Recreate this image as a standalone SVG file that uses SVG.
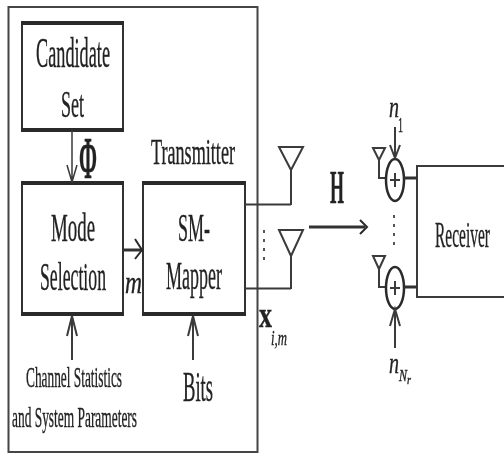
<svg xmlns="http://www.w3.org/2000/svg" width="504" height="454" viewBox="0 0 504 454">
<style>
text{font-family:"Liberation Serif","Times New Roman",serif;fill:#222;stroke:#222;stroke-width:0.35;text-anchor:start}
.box{fill:#fff;stroke:#333;stroke-width:2}
.thick{fill:none;stroke:#2b2b2b;stroke-width:4}
.ln{fill:none;stroke:#3a3a3a;stroke-width:2}
.thin{fill:none;stroke:#3a3a3a;stroke-width:1.5}
.bar{fill:none;stroke:#333;stroke-width:3}
.ant{fill:none;stroke:#3a3a3a;stroke-width:2;stroke-linejoin:miter}
.dot{fill:none;stroke:#555;stroke-width:2;stroke-dasharray:3 6}
.head{fill:none;stroke:#2b2b2b;stroke-width:2}
</style>
<defs>
<filter id="soft" x="-2%" y="-2%" width="104%" height="104%"><feGaussianBlur stdDeviation="0.45"/></filter>
</defs>
<rect width="504" height="454" fill="#fff"/>
<g filter="url(#soft)">
<g id="transmitter">
<rect x="8.500" y="7" width="249" height="445" fill="none" stroke="#444" stroke-width="2"/>
<text x="151" y="164" font-size="35" textLength="84" lengthAdjust="spacingAndGlyphs">Transmitter</text>
</g>
<g id="candidate-set">
<rect class="box" x="22" y="23" width="101" height="107"/>
<path class="thick" d="M21 23H124M21 130H124"/>
<text x="36" y="67" font-size="42" textLength="74" lengthAdjust="spacingAndGlyphs">Candidate</text>
<text x="61" y="117" font-size="38" textLength="23" lengthAdjust="spacingAndGlyphs">Set</text>
</g>
<g id="mode-selection">
<rect class="box" x="22" y="183" width="101" height="131"/>
<path class="thick" d="M21 183H124M21 314H124"/>
<text x="51" y="241" font-size="40" textLength="44" lengthAdjust="spacingAndGlyphs">Mode</text>
<text x="40" y="290" font-size="40" textLength="66" lengthAdjust="spacingAndGlyphs">Selection</text>
</g>
<g id="sm-mapper">
<rect class="box" x="143" y="183" width="102" height="131"/>
<path class="thick" d="M142 183H246M142 314H246"/>
<text x="178" y="241" font-size="40" textLength="32" lengthAdjust="spacingAndGlyphs">SM-</text>
<text x="166" y="289" font-size="40" textLength="56" lengthAdjust="spacingAndGlyphs">Mapper</text>
</g>
<g id="receiver">
<path class="ln" d="M504 166H417V297H504" stroke-width="2.500"/>
<text x="435" y="247" font-size="36" textLength="55" lengthAdjust="spacingAndGlyphs">Receiver</text>
</g>
<g id="tx-antenna-1"><path class="ant" d="M279 147H303L291 170ZM291 170V205"/></g>
<g id="tx-antenna-2"><path class="ant" d="M279 230H303L291 256ZM291 256V289"/></g>
<g id="rx-antenna-1"><path class="ant" d="M373 148H385L379 160ZM379 160V178H386"/></g>
<g id="rx-antenna-2"><path class="ant" d="M373 256H385L379 269ZM379 269V287H386"/></g>
<g id="adder-1">
<ellipse cx="395" cy="180" rx="9" ry="21" fill="#fff" stroke="#2b2b2b" stroke-width="2.500"/>
<path class="ln" d="M390 180H400M395 173V187"/>
</g>
<g id="adder-2">
<ellipse cx="395" cy="288" rx="9" ry="21" fill="#fff" stroke="#2b2b2b" stroke-width="2.500"/>
<path class="ln" d="M390 288H400M395 281V295"/>
</g>
<g id="connectors">
<path class="thin" d="M72 130V182M67 165L72 182L77 165"/>
<path class="bar" d="M123 250H141"/>
<path class="head" d="M135 239L142 250L135 259"/>
<path class="ln" d="M72 360V316M67 336L72 316L77 336"/>
<path class="ln" d="M193 360V316M188 336L193 316L198 336"/>
<path class="ln" d="M245 204.500H291M245 288.500H291"/>
<path class="bar" d="M309 227H365"/>
<path class="head" d="M360 220L367 227L360 234"/>
<path class="ln" d="M395 127V157M390 145L395 158L400 145"/>
<path class="ln" d="M395 348V310M390 326L395 309L400 326"/>
<path class="bar" d="M404 178H417M404 287H417"/>
<path class="dot" d="M264 230V264"/>
<path class="dot" d="M394 215V250"/>
</g>
<g id="labels">
<text x="79" y="178" font-size="60" font-weight="bold" textLength="18" lengthAdjust="spacingAndGlyphs">Φ</text>
<text x="125" y="293" font-size="32" font-style="italic" textLength="17" lengthAdjust="spacingAndGlyphs">m</text>
<text x="26" y="387" font-size="29" textLength="96" lengthAdjust="spacingAndGlyphs">Channel Statistics</text>
<text x="12" y="427" font-size="29" textLength="125" lengthAdjust="spacingAndGlyphs">and System Parameters</text>
<text x="183" y="401" font-size="42" textLength="30" lengthAdjust="spacingAndGlyphs">Bits</text>
<text x="330" y="203" font-size="46" font-weight="bold" textLength="14" lengthAdjust="spacingAndGlyphs">H</text>
<text x="259" y="327" font-size="36" font-weight="bold" textLength="13" lengthAdjust="spacingAndGlyphs">x</text>
<text x="271" y="345" font-size="22" font-style="italic" textLength="16" lengthAdjust="spacingAndGlyphs">i,m</text>
<text x="389" y="117" font-size="30" font-style="italic" textLength="10" lengthAdjust="spacingAndGlyphs">n</text>
<text x="398" y="132" font-size="22" textLength="5" lengthAdjust="spacingAndGlyphs">1</text>
<text x="389" y="373" font-size="30" font-style="italic" textLength="10" lengthAdjust="spacingAndGlyphs">n</text>
<text x="399" y="381" font-size="16" font-style="italic" textLength="8" lengthAdjust="spacingAndGlyphs">N</text>
<text x="407" y="384" font-size="12" font-style="italic" textLength="4" lengthAdjust="spacingAndGlyphs">r</text>
</g>
</g>
</svg>
